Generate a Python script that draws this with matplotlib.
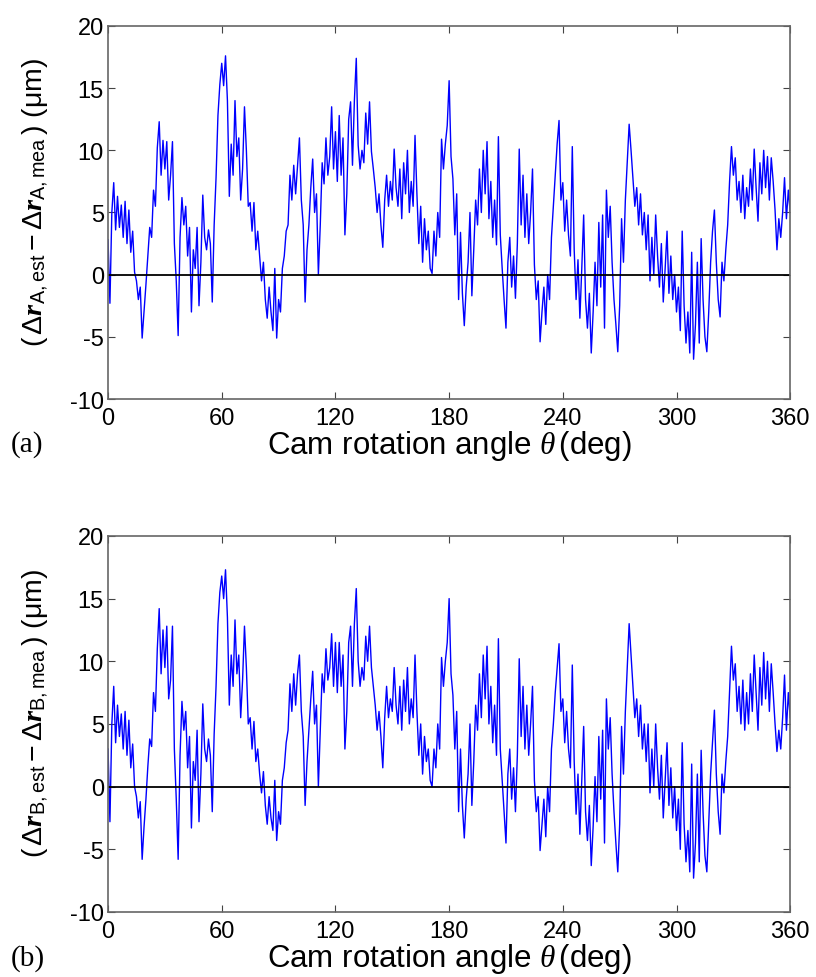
import matplotlib
matplotlib.use("Agg")
import matplotlib.pyplot as plt
import numpy as np

plt.rcParams['font.family'] = ['Liberation Sans', 'DejaVu Sans']
plt.rcParams['mathtext.fontset'] = 'custom'
plt.rcParams['mathtext.rm'] = 'Liberation Sans'
plt.rcParams['mathtext.it'] = 'Liberation Serif:italic'
plt.rcParams['mathtext.bf'] = 'Liberation Sans:bold'
plt.rcParams['mathtext.bfit'] = 'Liberation Serif:italic:bold'
plt.rcParams['axes.unicode_minus'] = False

# angle in degrees, one value per degree
theta = np.arange(0, 361)

# error of point A (um)
err_a = [
    2.8, -2.3, 5.0, 7.4, 3.6, 6.3, 3.8, 5.6, 3.0, 5.9,
    2.5, 5.2, 1.8, 3.5, 0.2, -0.5, -2.0, -1.0, -5.1, -3.0,
    -0.8, 1.5, 3.8, 3.0, 6.8, 5.5, 10.2, 12.3, 8.0, 10.8,
    8.5, 10.7, 6.0, 8.0, 10.7, 2.5, -0.5, -4.9, 3.0, 6.2,
    4.0, 5.5, 1.5, 3.8, -3.0, 2.0, 0.5, 3.8, -2.5, 1.0,
    6.4, 3.0, 2.0, 3.6, 2.5, -2.2, 4.0, 7.8, 12.8, 15.3,
    17.0, 15.2, 17.6, 14.0, 6.3, 10.5, 8.0, 14.0, 9.5, 11.0,
    6.0, 8.5, 13.5, 10.0, 5.5, 5.8, 3.5, 5.8, 2.0, 3.5,
    1.5, -0.5, 1.0, -2.0, -3.5, -1.0, -3.0, -4.5, 0.5, -5.1,
    -2.0, -3.0, 0.5, 1.5, 3.5, 4.0, 8.0, 6.0, 8.8, 6.5,
    8.8, 11.0, 6.0, 4.0, -2.2, 2.0, 4.0, 7.0, 9.3, 5.0,
    6.5, 0.0, 4.0, 9.0, 7.3, 11.0, 8.0, 9.5, 13.5, 8.5,
    11.5, 7.5, 12.8, 8.0, 11.0, 3.2, 6.5, 12.5, 13.9, 8.8,
    14.0, 17.4, 10.4, 8.5, 10.0, 9.0, 13.0, 10.5, 13.9, 9.9,
    8.5, 7.0, 5.0, 6.5, 4.0, 2.2, 6.0, 8.0, 5.5, 7.5,
    6.0, 10.1, 7.0, 5.5, 8.5, 4.5, 9.0, 6.5, 10.0, 5.0,
    7.5, 5.5, 11.2, 6.5, 2.5, 5.5, 1.0, 4.5, 2.0, 3.5,
    0.5, 0.1, 3.5, 1.5, 5.0, 3.0, 10.9, 8.5, 10.5, 12.0,
    15.6, 9.5, 7.7, 3.2, 6.5, -2.0, 3.4, -1.5, -4.1, -1.0,
    1.0, 5.0, -1.7, 2.0, 6.0, 4.0, 8.5, 5.0, 10.0, 6.5,
    10.7, 4.5, 7.5, 3.0, 6.0, 2.4, 11.1, 3.2, 0.5, -2.0,
    -4.3, 1.0, 3.0, -1.0, 1.5, -1.9, 2.5, 10.1, 4.0, 8.0,
    3.0, 6.5, 2.5, 5.0, 8.5, 0.8, -2.0, -0.5, -5.4, -3.0,
    -1.0, -4.0, 0.0, -2.0, 3.0, 5.5, 8.0, 10.5, 12.4, 6.0,
    7.4, 3.5, 6.0, 3.2, 1.5, 10.3, 2.0, -2.0, 1.2, -3.5,
    0.5, 4.8, -2.0, -4.3, -1.5, -6.3, -3.0, 1.0, -2.5, 4.2,
    -1.0, 4.8, -4.3, 6.8, 3.0, 5.5, 1.0, -2.0, -4.0, -6.2,
    -2.5, 4.5, 1.0, 6.0, 9.0, 12.1, 10.0, 7.7, 5.5, 7.0,
    4.0, 6.5, 3.2, 5.0, 2.0, 4.8, -0.5, 3.0, 0.0, 4.8,
    1.5, -1.0, 2.5, -2.2, 0.5, 3.5, -1.5, 1.5, -2.0, 0.0,
    -3.0, -1.0, -4.5, 3.5, -2.5, -5.5, -3.0, -6.3, 1.8, -6.8,
    -4.0, 1.0, -5.5, 2.9, -2.0, -5.0, -6.2, -3.0, 1.0, 3.5,
    5.2, 1.0, -2.0, -3.4, 1.0, -0.5, 2.0, 4.0, 7.5, 10.3,
    8.0, 9.4, 6.0, 7.5, 5.0, 8.0, 4.5, 7.0, 5.5, 8.5,
    6.0, 10.1, 7.0, 4.3, 9.0, 6.5, 10.0, 7.0, 9.5, 6.0,
    9.4, 7.5, 5.2, 2.0, 4.5, 3.0, 5.0, 7.8, 4.5, 6.8,
    5.0,
]

# error of point B (um)
err_b = [
    3.0, -2.8, 5.0, 8.0, 3.5, 6.5, 4.0, 5.8, 3.0, 6.0,
    2.5, 5.3, 1.5, 3.4, 0.0, -0.8, -2.5, -1.2, -5.8, -3.2,
    -1.0, 1.6, 3.8, 3.2, 7.5, 6.0, 11.0, 14.2, 9.0, 12.5,
    9.5, 12.8, 7.0, 8.5, 12.8, 3.0, -1.0, -5.8, 2.5, 6.8,
    4.5, 6.0, 1.5, 4.0, -3.3, 2.0, 0.5, 4.5, -2.8, 1.0,
    6.6, 3.0, 2.0, 3.8, 2.5, -2.0, 4.2, 8.0, 13.0, 15.5,
    16.8, 15.0, 17.3, 13.5, 6.5, 10.5, 8.0, 13.3, 9.0, 10.5,
    5.5, 8.5, 12.8, 9.5, 5.0, 5.5, 3.0, 5.2, 2.0, 3.0,
    1.0, -0.5, 1.2, -1.5, -3.0, -0.8, -2.5, -3.5, 0.5, -4.3,
    -2.0, -3.0, 0.5, 1.5, 3.5, 4.5, 8.2, 6.0, 9.0, 6.5,
    9.0, 10.5, 6.0, 4.0, -1.5, 2.0, 4.5, 7.0, 9.2, 5.0,
    6.5, 0.0, 4.5, 9.0, 7.5, 11.0, 8.5, 9.5, 12.2, 8.0,
    11.5, 7.5, 11.5, 8.0, 10.5, 3.0, 6.0, 11.5, 12.8, 8.0,
    13.0, 15.8, 10.0, 8.0, 9.5, 8.5, 12.0, 10.0, 12.8, 9.5,
    8.0, 6.5, 4.5, 6.0, 4.0, 1.5, 5.5, 8.0, 5.5, 7.0,
    6.0, 9.5, 6.5, 5.0, 8.0, 4.5, 8.5, 6.0, 9.5, 5.0,
    7.0, 5.5, 10.5, 6.0, 2.5, 5.0, 1.0, 4.0, 2.0, 3.0,
    0.5, 0.0, 3.0, 1.5, 5.0, 3.0, 10.3, 8.0, 10.0, 11.5,
    15.0, 9.0, 7.3, 3.0, 6.0, -2.0, 3.0, -1.5, -4.1, -1.0,
    1.0, 5.0, -1.5, 2.0, 6.5, 4.5, 9.0, 5.5, 10.5, 7.0,
    11.2, 5.0, 8.0, 3.5, 6.5, 2.5, 11.8, 3.0, 0.5, -2.0,
    -4.5, 1.0, 3.0, -1.0, 1.5, -2.0, 2.5, 10.2, 4.0, 8.0,
    3.0, 6.5, 2.5, 5.0, 8.0, 0.5, -2.0, -0.8, -5.1, -3.0,
    -1.0, -4.0, 0.0, -2.0, 3.0, 5.0, 7.5, 9.5, 11.4, 6.0,
    7.0, 3.5, 6.0, 3.0, 1.5, 9.7, 2.0, -2.2, 1.0, -3.8,
    0.5, 4.8, -2.0, -4.3, -1.5, -6.3, -3.2, 0.8, -2.8, 4.0,
    -1.0, 4.5, -4.5, 7.0, 3.0, 5.5, 1.0, -2.0, -4.5, -6.8,
    -3.0, 4.8, 1.0, 6.0, 9.5, 13.0, 10.5, 8.0, 5.5, 7.0,
    4.0, 6.5, 3.0, 5.0, 2.0, 5.0, -0.5, 3.0, 0.0, 5.0,
    1.5, -1.0, 2.5, -2.5, 0.5, 3.5, -1.5, 1.5, -2.5, 0.0,
    -3.5, -1.0, -5.0, 3.5, -3.0, -6.0, -3.5, -6.8, 1.8, -7.3,
    -4.5, 1.0, -6.0, 2.9, -2.0, -5.5, -6.8, -3.0, 1.0, 3.5,
    6.1, 1.0, -2.0, -3.8, 1.0, -0.5, 2.0, 4.0, 7.5, 11.2,
    8.5, 9.8, 6.0, 8.0, 5.0, 8.5, 4.5, 7.5, 5.0, 9.0,
    6.0, 10.5, 7.5, 4.5, 9.5, 6.5, 10.7, 7.0, 10.0, 6.0,
    9.8, 7.5, 5.0, 2.8, 4.5, 3.0, 5.5, 8.9, 4.5, 7.5,
    5.5,
]

x_ticks = [0, 60, 120, 180, 240, 300, 360]
y_ticks = [-10, -5, 0, 5, 10, 15, 20]

fig = plt.figure(figsize=(8.16, 9.78), dpi=100)

panels = [
    (err_a, 'A', '(a)', [0.1324, 0.591, 0.836, 0.3814]),
    (err_b, 'B', '(b)', [0.1324, 0.0665, 0.836, 0.3845]),
]

for data, pt, tag, rect in panels:
    ax = fig.add_axes(rect)
    ax.plot(theta, data, color='#0000ff', lw=1.0)
    ax.axhline(0, color='black', lw=1.3)
    ax.set_xlim(0, 360)
    ax.set_ylim(-10, 20)
    ax.set_xticks(x_ticks)
    ax.set_yticks(y_ticks)
    ax.tick_params(direction='in', top=True, right=True, length=5,
                   labelsize=17, color='#444444')
    ax.tick_params(axis='x', pad=6)
    ax.tick_params(axis='y', pad=3)
    for s in ax.spines.values():
        s.set_color('#666666')
        s.set_linewidth(1.2)
    ax.set_xlabel(r'Cam rotation angle $\theta\,$(deg)', fontsize=22.5, labelpad=-1)
    ylab = (r'$(\,\Delta\mathbfit{r}_{\mathrm{%s,est}}-\Delta\mathbfit{r}_{\mathrm{%s,mea}}\,)$ ($\mathrm{\mu}$m)'
            % (pt, pt))
    ax.set_ylabel(ylab, fontsize=20.5)
    ax.yaxis.set_label_coords(-0.083, 0.53)
    ax.text(-0.142, -0.12, tag, transform=ax.transAxes, fontsize=21,
            family='Liberation Serif', va='center', ha='left')

fig.savefig('out.png', dpi=100)
